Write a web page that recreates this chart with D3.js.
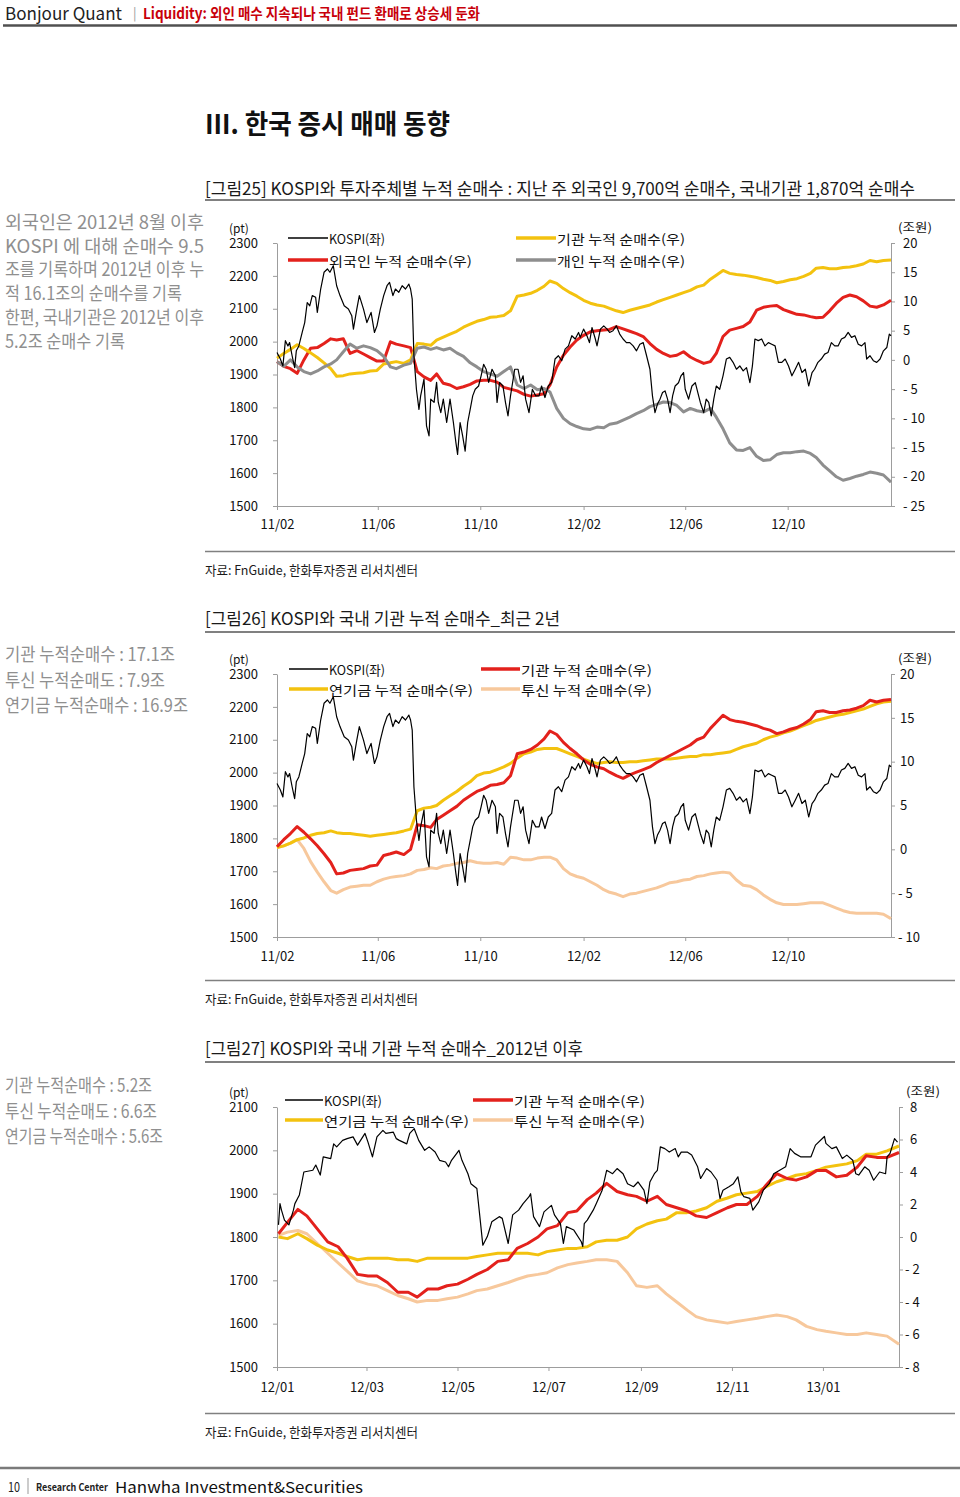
<!DOCTYPE html>
<html><head><meta charset="utf-8">
<script src="https://cdn.jsdelivr.net/npm/d3@7"></script>
<style>
body{margin:0;background:#fff;}
svg{display:block;}
text{font-family:"Noto Sans CJK KR","Noto Sans",sans-serif;}
</style></head><body>
<svg id="page" width="960" height="1497"></svg>
<script>
// ---------------- DATA ----------------
// shared weekly-ish grid for charts 25 / 26 (cumulative net buying, 조원)
const gridAB = ["11-02-01","11-02-09","11-02-17","11-02-25","11-03-05","11-03-13","11-03-21","11-03-29","11-04-06","11-04-13","11-04-21","11-04-29","11-05-07","11-05-15","11-05-23","11-05-31","11-06-08","11-06-16","11-06-23","11-07-02","11-07-10","11-07-18","11-07-26","11-08-03","11-08-10","11-08-18","11-08-26","11-09-03","11-09-11","11-09-19","11-09-27","11-10-05","11-10-13","11-10-21","11-10-29","11-11-06","11-11-14","11-11-22","11-11-30","11-12-08","11-12-16","11-12-23","11-12-31","12-01-08","12-01-16","12-01-24",
"12-02-01","12-02-09","12-02-17","12-02-25","12-03-03","12-03-11","12-03-19","12-03-27","12-04-04","12-04-12","12-04-20","12-04-28","12-05-06","12-05-14","12-05-22","12-05-30","12-06-07","12-06-15","12-06-23","12-07-01","12-07-08","12-07-16","12-07-24","12-08-01","12-08-09","12-08-17","12-08-25","12-09-02","12-09-10","12-09-18","12-09-26","12-10-04","12-10-12","12-10-20","12-10-28","12-11-04","12-11-12","12-11-20","12-11-28","12-12-06","12-12-14","12-12-22","12-12-30","13-01-07","13-01-15","13-01-23","13-02-01"];

const institution = [0.3,1.1,1.8,2.6,1.95,1.2,0.4,-0.5,-1.5,-2.8,-2.7,-2.4,-2.3,-2.2,-1.9,-1.8,-0.7,-0.5,-0.3,-0.6,0.0,2.8,2.7,2.5,3.4,3.9,4.4,4.9,5.6,6.1,6.6,6.9,7.3,7.4,7.6,8.4,10.9,11.1,11.4,11.9,12.6,13.5,13.1,12.2,11.5,10.9,
10.2,9.7,9.4,9.2,8.8,8.4,8.1,8.5,8.8,9.1,9.4,9.9,10.3,10.7,11.1,11.5,11.9,12.5,12.8,13.8,14.5,15.3,14.8,14.6,14.5,14.3,14.1,13.8,13.6,13.2,13.4,13.7,13.9,14.3,14.8,15.7,15.8,15.6,15.6,15.8,15.9,16.1,16.4,17.0,16.8,17.0,17.1];

const foreign = [-0.3,-1.1,-1.5,-2.3,0.0,2.0,2.1,2.8,3.6,3.4,3.6,1.1,1.6,1.0,0.4,-0.2,-0.2,3.1,2.7,2.4,2.1,-2.0,-2.9,-3.5,-2.4,-4.0,-4.3,-4.9,-4.6,-4.2,-3.6,-3.5,-3.5,-3.8,-4.7,-5.0,-5.3,-5.9,-6.2,-6.0,-5.8,-4.3,-1.2,0.8,2.2,3.4,
4.2,4.8,5.0,5.1,5.2,5.7,5.3,4.9,4.5,4.0,2.8,1.8,1.1,0.6,0.8,1.4,0.5,-0.1,-0.6,-0.3,1.1,4.0,5.1,5.4,5.7,6.5,8.5,9.0,9.2,9.3,8.6,8.2,7.8,7.7,7.4,7.2,7.3,8.4,9.7,10.7,11.1,10.8,10.1,9.2,9.0,9.4,10.2];

const individual = [-0.3,-1.1,0.0,-1.2,-2.0,-2.4,-1.9,-1.2,-0.7,0.0,1.4,2.7,2.0,2.4,2.1,1.6,0.6,-1.2,-1.5,-0.9,-0.6,2.0,2.2,1.8,2.1,1.7,2.0,1.2,0.6,-0.5,-1.2,-2.0,-2.4,-2.8,-2.0,-1.2,-4.3,-4.9,-4.3,-5.1,-4.9,-5.5,-8.3,-10.0,-10.9,-11.4,
-11.8,-11.9,-11.5,-11.6,-11.0,-10.8,-10.3,-9.8,-9.2,-8.7,-8.0,-7.6,-7.2,-7.3,-7.8,-8.9,-8.3,-8.7,-8.9,-8.3,-9.8,-11.8,-14.2,-15.4,-15.5,-15.0,-16.5,-17.2,-17.1,-16.2,-15.9,-15.9,-15.7,-15.6,-16.0,-16.7,-18.0,-19.0,-20.0,-20.6,-20.3,-19.9,-19.6,-19.2,-19.4,-19.7,-20.9];

const pension = [0.2,0.4,0.7,1.1,1.3,1.6,1.8,1.9,2.1,1.9,1.8,1.8,1.7,1.6,1.5,1.6,1.7,1.8,1.9,2.1,2.3,4.4,4.7,4.8,5.0,5.6,6.1,6.6,7.2,7.7,8.4,8.7,8.8,9.1,9.4,9.8,10.4,10.9,11.1,11.4,11.5,11.5,11.5,11.2,10.9,10.6,
10.3,10.0,9.8,9.9,10.0,9.9,9.9,10.0,10.0,10.1,10.2,10.3,10.3,10.3,10.4,10.5,10.6,10.6,10.8,10.8,10.9,11.0,11.1,11.4,11.7,11.9,12.1,12.5,12.8,13.0,13.3,13.5,13.8,14.1,14.4,14.7,14.9,15.1,15.3,15.4,15.6,15.8,16.0,16.3,16.6,16.8,16.9];

const trust = [0.2,0.4,0.7,1.1,0.1,-1.4,-2.6,-3.7,-4.7,-5.0,-4.6,-4.3,-4.2,-4.1,-4.1,-3.7,-3.4,-3.2,-3.1,-3.0,-2.8,-2.4,-2.3,-2.1,-2.2,-1.9,-1.8,-1.6,-1.5,-1.3,-1.5,-1.6,-1.6,-1.5,-1.7,-0.9,-1.0,-1.2,-1.2,-1.0,-0.9,-0.9,-1.2,-2.2,-2.8,-3.1,
-3.3,-3.7,-4.1,-4.6,-4.9,-5.1,-5.4,-5.1,-5.0,-4.8,-4.6,-4.4,-4.1,-3.8,-3.7,-3.5,-3.4,-3.1,-3.0,-2.8,-2.7,-2.6,-2.7,-3.5,-4.1,-4.2,-4.6,-5.2,-5.7,-6.1,-6.3,-6.3,-6.3,-6.2,-6.1,-6.1,-6.1,-6.4,-6.7,-7.0,-7.2,-7.3,-7.3,-7.3,-7.3,-7.4,-7.9];

// KOSPI (pt) for charts 25 / 26
const kospiAB = [["11-02-01",1967],["11-02-05",1947],["11-02-08",1926],["11-02-11",2003],["11-02-14",1987],["11-02-16",1997],["11-02-19",1957],["11-02-22",1921],["11-02-24",1972],["11-02-27",1987],
["11-03-03",2028],["11-03-06",2058],["11-03-09",2119],["11-03-12",2109],["11-03-15",2140],["11-03-19",2135],["11-03-21",2089],["11-03-25",2160],["11-03-29",2211],["11-04-02",2221],
["11-04-05",2211],["11-04-09",2231],["11-04-13",2170],["11-04-17",2140],["11-04-22",2109],["11-04-27",2099],["11-05-01",2079],["11-05-03",2038],["11-05-07",2099],["11-05-10",2140],
["11-05-15",2099],["11-05-19",2058],["11-05-24",2089],["11-05-28",2028],["11-05-31",2048],["11-06-04",2099],["11-06-08",2140],["11-06-12",2170],["11-06-15",2180],["11-06-19",2140],
["11-06-22",2160],["11-06-26",2150],["11-06-30",2170],["11-07-04",2160],["11-07-08",2175],["11-07-10",2160],["11-07-12",2129],["11-07-14",1957],["11-07-17",1855],["11-07-20",1794],
["11-07-22",1835],["11-07-26",1886],["11-07-29",1744],["11-08-01",1713],["11-08-03",1825],["11-08-07",1815],["11-08-10",1876],["11-08-12",1815],["11-08-15",1784],["11-08-18",1825],
["11-08-22",1754],["11-08-26",1825],["11-08-30",1754],["11-09-02",1693],["11-09-04",1657],["11-09-07",1754],["11-09-10",1713],["11-09-13",1667],["11-09-16",1754],["11-09-19",1794],
["11-09-22",1835],["11-09-25",1855],["11-09-29",1865],["11-10-02",1896],["11-10-05",1931],["11-10-08",1916],["11-10-11",1876],["11-10-15",1916],["11-10-19",1896],["11-10-21",1815],
["11-10-24",1876],["11-10-28",1865],["11-10-31",1815],["11-11-03",1774],["11-11-06",1835],["11-11-11",1916],["11-11-15",1916],["11-11-18",1876],["11-11-21",1896],["11-11-24",1825],
["11-11-28",1784],["11-12-02",1855],["11-12-06",1835],["11-12-10",1835],["11-12-13",1865],["11-12-17",1830],["11-12-21",1865],["11-12-25",1876],["11-12-29",1947],["12-01-02",1957],
["12-01-06",1942],["12-01-10",1977],["12-01-14",1987],["12-01-18",2018],["12-01-22",2008],["12-01-26",2028],["12-01-28",2013],["12-02-01",2038],["12-02-05",2018],["12-02-08",1997],
["12-02-11",2043],["12-02-15",2008],["12-02-17",1987],["12-02-21",2038],["12-02-25",2048],["12-02-29",2038],["12-03-03",2028],["12-03-07",2033],["12-03-11",2048],["12-03-15",2023],
["12-03-19",2008],["12-03-23",1997],["12-03-27",1997],["12-03-31",1987],["12-04-04",1972],["12-04-08",1992],["12-04-12",1997],["12-04-16",1957],["12-04-20",1916],["12-04-23",1835],
["12-04-26",1784],["12-04-29",1810],["12-05-02",1825],["12-05-05",1845],["12-05-08",1850],["12-05-11",1825],["12-05-14",1784],["12-05-17",1835],["12-05-20",1865],["12-05-24",1875],
["12-05-27",1896],["12-05-30",1906],["12-06-01",1855],["12-06-05",1825],["12-06-09",1865],["12-06-13",1875],["12-06-17",1835],["12-06-19",1815],["12-06-23",1784],["12-06-26",1825],
["12-06-29",1815],["12-07-02",1774],["12-07-05",1825],["12-07-08",1865],["12-07-12",1855],["12-07-16",1896],["12-07-20",1947],["12-07-24",1952],["12-07-28",1937],["12-08-01",1916],
["12-08-05",1926],["12-08-09",1911],["12-08-13",1921],["12-08-17",1875],["12-08-20",1926],["12-08-23",2008],["12-08-27",2003],["12-08-31",2008],["12-09-04",1987],["12-09-08",1997],
["12-09-12",1992],["12-09-16",1987],["12-09-20",1937],["12-09-24",1937],["12-09-28",1947],["12-10-02",1926],["12-10-06",1896],["12-10-10",1916],["12-10-14",1937],["12-10-18",1906],
["12-10-22",1916],["12-10-26",1865],["12-10-30",1906],["12-11-02",1916],["12-11-06",1937],["12-11-10",1947],["12-11-14",1962],["12-11-18",1967],["12-11-22",1997],["12-11-26",1987],
["12-11-30",1987],["12-12-04",2008],["12-12-08",2013],["12-12-12",2028],["12-12-16",2013],["12-12-20",2018],["12-12-24",1992],["12-12-28",1987],["13-01-01",1997],["13-01-03",1947],
["13-01-07",1957],["13-01-11",1942],["13-01-15",1937],["13-01-19",1947],["13-01-23",1972],["13-01-27",1982],["13-01-30",2023],["13-02-01",2018]];

// chart 27 (since 2012): grid and cumulative series (조원)
const gridC = ["12-01-02","12-01-08","12-01-15","12-01-21","12-01-28","12-02-04","12-02-11","12-02-17","12-02-24","12-03-02","12-03-08","12-03-15","12-03-22","12-03-29","12-04-04","12-04-11","12-04-18","12-04-24","12-05-01","12-05-08","12-05-14","12-05-21","12-05-28","12-06-04","12-06-10","12-06-17","12-06-24","12-06-30","12-07-07","12-07-14","12-07-20",
"12-07-27","12-08-02","12-08-09","12-08-16","12-08-23","12-08-29","12-09-05","12-09-12","12-09-18","12-09-25","12-10-02","12-10-08","12-10-15","12-10-22","12-10-29","12-11-04","12-11-11","12-11-18","12-11-24","12-12-01","12-12-08","12-12-14","12-12-21","12-12-28","13-01-03","13-01-10","13-01-17","13-01-24","13-01-30","13-02-06","13-02-13","13-02-21"];

const institutionC = [0.2,0.9,1.7,1.3,0.5,-0.3,-0.6,-1.3,-2.3,-2.4,-2.4,-2.8,-3.4,-3.4,-3.7,-3.2,-3.2,-3.0,-2.9,-2.6,-2.3,-2.0,-1.5,-1.4,-0.7,-0.4,0.0,0.5,0.7,1.5,1.6,
2.3,2.7,3.3,2.8,2.6,2.5,2.2,2.5,2.0,1.8,1.6,1.3,1.2,1.5,1.8,2.0,2.0,2.5,3.2,3.9,3.6,3.5,3.7,4.1,4.1,3.7,3.8,4.3,5.0,4.9,4.9,5.2];

const pensionC = [0.0,-0.1,0.2,-0.1,-0.5,-0.8,-1.0,-1.2,-1.4,-1.3,-1.3,-1.3,-1.4,-1.4,-1.5,-1.3,-1.3,-1.3,-1.3,-1.3,-1.2,-1.1,-1.0,-1.0,-1.0,-1.0,-1.1,-0.9,-0.8,-0.7,-0.7,
-0.6,-0.3,-0.2,-0.2,0.0,0.5,0.8,1.0,1.1,1.5,1.5,1.6,1.8,2.2,2.4,2.6,2.7,2.8,3.1,3.4,3.6,3.8,3.9,4.1,4.3,4.4,4.5,4.7,5.1,5.1,5.3,5.6];

const trustC = [0.1,0.3,0.4,0.2,-0.4,-1.0,-1.6,-2.1,-2.7,-2.9,-3.0,-3.3,-3.6,-3.8,-4.0,-3.9,-3.9,-3.8,-3.7,-3.5,-3.3,-3.2,-3.0,-2.8,-2.6,-2.4,-2.3,-2.2,-1.9,-1.7,-1.6,
-1.5,-1.4,-1.4,-1.5,-2.2,-3.0,-3.1,-3.0,-3.5,-4.0,-4.5,-4.9,-5.1,-5.2,-5.3,-5.2,-5.1,-5.0,-4.9,-4.8,-4.9,-5.1,-5.5,-5.7,-5.8,-5.9,-6.0,-6.0,-5.9,-6.0,-6.1,-6.6];

const kospiC = [["12-01-02",1828],["12-01-03",1877],["12-01-04",1862],["12-01-06",1839],["12-01-09",1828],["12-01-12",1862],["12-01-13",1877],["12-01-16",1897],["12-01-19",1950],["12-01-25",1954],
["12-01-27",1966],["12-01-30",1943],["12-02-01",1985],["12-02-06",1981],["12-02-08",2015],["12-02-10",2008],["12-02-14",2023],["12-02-17",2027],["12-02-21",2031],["12-02-24",2012],
["12-02-29",2039],["12-03-02",2019],["12-03-05",1985],["12-03-08",2031],["12-03-12",2046],["12-03-14",2039],["12-03-19",2042],["12-03-21",2027],["12-03-23",2023],["12-03-28",2015],
["12-03-30",2039],["12-04-02",2050],["12-04-05",2023],["12-04-09",2000],["12-04-12",2008],["12-04-16",1996],["12-04-19",1977],["12-04-23",1973],["12-04-25",1962],["12-04-27",1977],
["12-05-02",2000],["12-05-04",1977],["12-05-08",1946],["12-05-10",1923],["12-05-14",1912],["12-05-16",1847],["12-05-18",1781],["12-05-21",1801],["12-05-22",1812],["12-05-24",1835],
["12-05-29",1847],["12-05-31",1843],["12-06-04",1785],["12-06-07",1851],["12-06-11",1862],["12-06-14",1877],["12-06-18",1893],["12-06-19",1900],["12-06-21",1847],["12-06-25",1824],
["12-06-28",1858],["12-07-03",1873],["12-07-05",1851],["12-07-09",1831],["12-07-11",1785],["12-07-13",1824],["12-07-18",1816],["12-07-23",1789],["12-07-24",1778],["12-07-25",1831],
["12-07-27",1839],["12-07-31",1862],["12-08-02",1877],["12-08-06",1908],["12-08-09",1954],["12-08-13",1946],["12-08-16",1958],["12-08-20",1946],["12-08-23",1923],["12-08-27",1916],
["12-08-30",1927],["12-09-03",1908],["12-09-05",1877],["12-09-07",1927],["12-09-10",1946],["12-09-12",1954],["12-09-14",2008],["12-09-17",2004],["12-09-20",1996],["12-09-24",2004],
["12-09-26",1985],["12-09-28",1996],["12-10-02",1996],["12-10-05",1989],["12-10-09",1962],["12-10-11",1935],["12-10-15",1958],["12-10-18",1950],["12-10-22",1931],["12-10-24",1889],
["12-10-26",1908],["12-10-30",1916],["12-11-02",1923],["12-11-05",1939],["12-11-07",1904],["12-11-09",1893],["12-11-13",1889],["12-11-15",1862],["12-11-19",1881],["12-11-22",1908],
["12-11-26",1923],["12-11-29",1946],["12-12-03",1954],["12-12-07",1962],["12-12-10",2004],["12-12-13",1993],["12-12-17",1985],["12-12-20",1985],["12-12-24",1985],["12-12-27",2012],
["13-01-02",2032],["13-01-03",2016],["13-01-07",2004],["13-01-10",2008],["13-01-14",1981],["13-01-17",1989],["13-01-21",1977],["13-01-23",1946],["13-01-25",1943],["13-01-29",1962],
["13-02-01",1954],["13-02-04",1931],["13-02-08",1950],["13-02-12",1946],["13-02-13",1985],["13-02-15",1993],["13-02-18",2027],["13-02-20",2019]];

// tick values
const ticksAB = ["11-02-01","11-06-01","11-10-01","12-02-01","12-06-01","12-10-01"];
const ticksC = ["12-01-01","12-03-01","12-05-01","12-07-01","12-09-01","12-11-01","13-01-01"];
const leftTicks1 = [1500,1600,1700,1800,1900,2000,2100,2200,2300];
const rightTicks1 = [-25,-20,-15,-10,-5,0,5,10,15,20];
const rightTicks2 = [-10,-5,0,5,10,15,20];
const leftTicks3 = [1500,1600,1700,1800,1900,2000,2100];
const rightTicks3 = [-8,-6,-4,-2,0,2,4,6,8];

// labels
const legend1 = ["KOSPI(좌)","외국인  누적  순매수(우)","기관  누적  순매수(우)","개인  누적  순매수(우)"];
const legend2 = ["KOSPI(좌)","연기금  누적  순매수(우)","기관  누적  순매수(우)","투신  누적  순매수(우)"];
const note1 = ["외국인은  2012년  8월  이후","KOSPI  에  대해  순매수  9.5","조를 기록하며 2012년 이후 누","적 16.1조의 순매수를 기록","한편, 국내기관은 2012년 이후","5.2조 순매수 기록"];
const note2 = ["기관 누적순매수 : 17.1조","투신 누적순매도 : 7.9조","연기금 누적순매수 : 16.9조"];
const note3 = ["기관 누적순매수 : 5.2조","투신 누적순매도 :  6.6조","연기금 누적순매수 : 5.6조"];

// ---------------- DRAW ----------------
const svg = d3.select("#page");
const parse = d3.timeParse("%y-%m-%d");
const C = {red:"#e3211c", yellow:"#f3c20f", gray:"#8e8e8e", peach:"#f7c89c", black:"#000"};

function addText(x, y, s, o = {}) {
  const t = svg.append("text").attr("x", x).attr("y", y).text(s)
    .attr("dominant-baseline", "central")
    .attr("font-size", o.size || 13)
    .attr("fill", o.fill || "#111");
  if (o.family) t.attr("font-family", o.family);
  if (o.weight) t.attr("font-weight", o.weight);
  if (o.len) t.attr("textLength", o.len).attr("lengthAdjust", "spacingAndGlyphs");
  if (o.anchor) t.attr("text-anchor", o.anchor);
  return t;
}
function hline(x1, x2, y, color, w) {
  svg.append("line").attr("x1", x1).attr("x2", x2).attr("y1", y).attr("y2", y)
    .attr("stroke", color).attr("stroke-width", w);
}
const grid = (dates, vals) => dates.map((d, i) => ({date: parse(d), v: vals[i]}));
const pairs = arr => arr.map(p => ({date: parse(p[0]), v: p[1]}));

// header
addText(5, 12, "Bonjour Quant", {size: 17, family: "Liberation Sans, Arial, sans-serif", fill: "#222", len: 117});
addText(133, 12, "|", {size: 13, fill: "#999", family: "Liberation Sans, Arial"});
addText(143, 12, "Liquidity: 외인 매수 지속되나 국내 펀드 환매로 상승세 둔화", {size: 15, weight: "bold", fill: "#c8000a", len: 337});
hline(3, 957, 25.5, "#505050", 2.5);

addText(205, 122, "Ⅲ. 한국 증시 매매 동향", {size: 27, weight: "bold", fill: "#111", len: 245});

function drawChart(c) {
  const g = svg.append("g");
  const x = d3.scaleTime().domain(c.xDomain.map(parse)).range([c.left, c.right]);
  const yL = d3.scaleLinear().domain(c.leftDomain).range([c.bottom, c.top]);
  const yR = d3.scaleLinear().domain(c.rightDomain).range([c.bottom, c.top]);

  const ax = g.append("g").attr("transform", `translate(0,${c.bottom})`)
    .call(d3.axisBottom(x).tickValues(c.xTicks.map(parse)).tickFormat(d3.timeFormat("%y/%m"))
      .tickSizeInner(4).tickSizeOuter(0).tickPadding(c.xPad));
  const al = g.append("g").attr("transform", `translate(${c.left},0)`)
    .call(d3.axisLeft(yL).tickValues(c.leftTicks).tickFormat(d3.format("d"))
      .tickSizeInner(4).tickSizeOuter(0).tickPadding(15));
  const ar = g.append("g").attr("transform", `translate(${c.right},0)`)
    .call(d3.axisRight(yR).tickValues(c.rightTicks).tickFormat(v => v < 0 ? "- " + Math.abs(v) : String(v))
      .tickSizeInner(4).tickSizeOuter(0));
  ar.selectAll(".tick text").attr("x", d => d < 0 ? c.rNegX : c.rPosX);
  [ax, al, ar].forEach(a => {
    a.attr("font-family", "Liberation Sans, Arial, sans-serif").attr("font-size", 13);
    a.selectAll("path.domain").attr("stroke", "#9d9d9d");
    a.selectAll(".tick line").attr("stroke", "#9d9d9d");
    a.selectAll(".tick text").attr("fill", "#111");
  });
  addText(c.left - 48, c.top - 16, "(pt)", {size: 12, family: "Liberation Sans, Arial"});
  addText(c.right + 7, c.top - 17, "(조원)", {size: 12, len: 34});

  const lineR = d3.line().x(d => x(d.date)).y(d => yR(d.v));
  const lineL = d3.line().x(d => x(d.date)).y(d => yL(d.v));
  c.series.forEach(s => {
    g.append("path").datum(s.data).attr("d", lineR).attr("fill", "none")
      .attr("stroke", s.color).attr("stroke-width", 3).attr("stroke-linejoin", "round");
  });
  g.append("path").datum(c.kospi).attr("d", lineL).attr("fill", "none")
    .attr("stroke", "#000").attr("stroke-width", 1.2).attr("stroke-linejoin", "round");

  c.legend.forEach(l => {
    hline(l.x1, l.x2, l.y, l.color, l.w);
    addText(l.x2 + 1, l.y, l.label, {size: 13, len: l.end - l.x2 - 1});
  });
}

// ---- Figure 25
addText(205, 187, "[그림25]  KOSPI와 투자주체별 누적 순매수 : 지난 주 외국인 9,700억 순매수, 국내기관 1,870억 순매수", {size: 17, fill: "#1a1a1a", len: 710});
hline(205, 955, 200, "#808080", 2);
note1.forEach((s, i) => {
  const lens = [199, 199, 199, 177, 199, 120];
  addText(5, 221 + i * 23.7, s, {size: 18, fill: "#8f8f8f", len: lens[i]});
});
drawChart({
  left: 277, right: 891, top: 243, bottom: 506,
  xDomain: ["11-02-01", "13-02-01"], xTicks: ticksAB, xPad: 10,
  leftDomain: [1500, 2300], leftTicks: leftTicks1,
  rightDomain: [-25, 20], rightTicks: rightTicks1, rNegX: 12, rPosX: 12,
  series: [
    {data: grid(gridAB, foreign), color: C.red},
    {data: grid(gridAB, institution), color: C.yellow},
    {data: grid(gridAB, individual), color: C.gray}
  ],
  kospi: pairs(kospiAB),
  legend: [
    {x1: 288, x2: 328, y: 238, color: C.black, w: 1.5, label: legend1[0], end: 385},
    {x1: 288, x2: 328, y: 260, color: C.red, w: 3.5, label: legend1[1], end: 472},
    {x1: 516, x2: 556, y: 238, color: C.yellow, w: 3.5, label: legend1[2], end: 685},
    {x1: 516, x2: 556, y: 260, color: C.gray, w: 3.5, label: legend1[3], end: 685}
  ]
});
hline(205, 955, 551.5, "#808080", 1.5);
addText(205, 569, "자료: FnGuide, 한화투자증권 리서치센터", {size: 13, fill: "#1a1a1a", len: 213});

// ---- Figure 26
addText(205, 617, "[그림26]  KOSPI와 국내 기관 누적 순매수_최근 2년", {size: 17, fill: "#1a1a1a", len: 355});
hline(205, 955, 632, "#808080", 2);
note2.forEach((s, i) => {
  const lens = [170, 160, 183];
  addText(5, 653 + i * 25.5, s, {size: 18, fill: "#8f8f8f", len: lens[i]});
});
drawChart({
  left: 277, right: 891, top: 674, bottom: 937,
  xDomain: ["11-02-01", "13-02-01"], xTicks: ticksAB, xPad: 11,
  leftDomain: [1500, 2300], leftTicks: leftTicks1,
  rightDomain: [-10, 20], rightTicks: rightTicks2, rNegX: 7, rPosX: 9,
  series: [
    {data: grid(gridAB, trust), color: C.peach},
    {data: grid(gridAB, pension), color: C.yellow},
    {data: grid(gridAB, institution), color: C.red}
  ],
  kospi: pairs(kospiAB),
  legend: [
    {x1: 289, x2: 328, y: 669, color: C.black, w: 1.5, label: legend2[0], end: 385},
    {x1: 289, x2: 328, y: 689, color: C.yellow, w: 3.5, label: legend2[1], end: 473},
    {x1: 481, x2: 520, y: 669, color: C.red, w: 3.5, label: legend2[2], end: 652},
    {x1: 481, x2: 520, y: 689, color: C.peach, w: 3.5, label: legend2[3], end: 652}
  ]
});
hline(205, 955, 980.5, "#808080", 1.5);
addText(205, 998, "자료: FnGuide, 한화투자증권 리서치센터", {size: 13, fill: "#1a1a1a", len: 213});

// ---- Figure 27
addText(205, 1047, "[그림27]  KOSPI와 국내 기관 누적 순매수_2012년 이후", {size: 17, fill: "#1a1a1a", len: 378});
hline(205, 955, 1062, "#808080", 2);
note3.forEach((s, i) => {
  const lens = [147, 152, 158];
  addText(5, 1084 + i * 25.5, s, {size: 18, fill: "#8f8f8f", len: lens[i]});
});
drawChart({
  left: 277, right: 899, top: 1107, bottom: 1367,
  xDomain: ["12-01-01", "13-02-21"], xTicks: ticksC, xPad: 12,
  leftDomain: [1500, 2100], leftTicks: leftTicks3,
  rightDomain: [-8, 8], rightTicks: rightTicks3, rNegX: 6, rPosX: 11,
  series: [
    {data: grid(gridC, trustC), color: C.peach},
    {data: grid(gridC, pensionC), color: C.yellow},
    {data: grid(gridC, institutionC), color: C.red}
  ],
  kospi: pairs(kospiC),
  legend: [
    {x1: 285, x2: 323, y: 1100, color: C.black, w: 1.5, label: legend2[0], end: 382},
    {x1: 285, x2: 323, y: 1120, color: C.yellow, w: 3.5, label: legend2[1], end: 469},
    {x1: 473, x2: 513, y: 1100, color: C.red, w: 3.5, label: legend2[2], end: 645},
    {x1: 473, x2: 513, y: 1120, color: C.peach, w: 3.5, label: legend2[3], end: 645}
  ]
});
hline(205, 955, 1413.5, "#808080", 1.5);
addText(205, 1431, "자료: FnGuide, 한화투자증권 리서치센터", {size: 13, fill: "#1a1a1a", len: 213});

// footer
hline(0, 960, 1468, "#7a7a7a", 2.5);
addText(8, 1486, "10", {size: 13, family: "Liberation Sans, Arial", fill: "#222", len: 12});
svg.append("line").attr("x1", 28).attr("x2", 28).attr("y1", 1478).attr("y2", 1494).attr("stroke", "#999").attr("stroke-width", 1);
addText(36, 1486, "Research Center", {size: 10, weight: "bold", family: "Liberation Sans Narrow, Liberation Sans, Arial", fill: "#222", len: 72});
addText(115, 1486, "Hanwha Investment&Securities", {size: 15, family: "Lato, sans-serif", fill: "#111", len: 248});
</script></body></html>
